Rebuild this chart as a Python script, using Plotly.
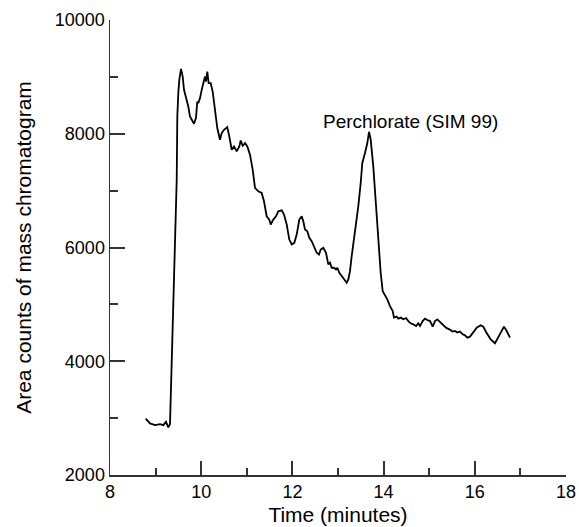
import plotly.graph_objects as go

time_min = [8.783, 8.877, 8.987, 9.096, 9.169, 9.228, 9.279, 9.316, 9.463, 9.476, 9.498, 9.520,
            9.557, 9.594, 9.623, 9.667, 9.717, 9.754, 9.792, 9.842, 9.886, 9.914, 9.936, 9.974,
            10.011, 10.046, 10.083, 10.105, 10.134, 10.164, 10.208, 10.252, 10.303, 10.353, 10.412,
            10.450, 10.500, 10.572, 10.616, 10.669, 10.719, 10.778, 10.836, 10.866, 10.910, 10.961,
            11.011, 11.070, 11.129, 11.180, 11.252, 11.327, 11.377, 11.436, 11.493, 11.524, 11.581,
            11.640, 11.691, 11.765, 11.816, 11.875, 11.932, 11.985, 12.042, 12.094, 12.151, 12.204,
            12.239, 12.276, 12.327, 12.371, 12.423, 12.474, 12.533, 12.583, 12.621, 12.678, 12.737,
            12.787, 12.825, 12.862, 12.912, 12.956, 12.985, 13.029, 13.081, 13.138, 13.191, 13.226,
            13.263, 13.300, 13.351, 13.395, 13.445, 13.498, 13.533, 13.592, 13.643, 13.680, 13.717,
            13.774, 13.833, 13.884, 13.936, 13.980, 14.031, 14.081, 14.140, 14.200, 14.228, 14.287,
            14.322, 14.375, 14.432, 14.491, 14.542, 14.594, 14.651, 14.711, 14.761, 14.798, 14.857,
            14.908, 14.958, 15.018, 15.077, 15.127, 15.178, 15.237, 15.296, 15.368, 15.441, 15.515,
            15.566, 15.616, 15.675, 15.735, 15.785, 15.836, 15.895, 15.967, 16.042, 16.129, 16.186,
            16.246, 16.296, 16.349, 16.443, 16.515, 16.590, 16.640, 16.699, 16.772]

area_counts = [2990, 2907, 2877, 2895, 2877, 2935, 2837, 2895, 7193, 8304, 8719, 8947,
               9140, 9005, 8772, 8654, 8479, 8304, 8246, 8175, 8281, 8567, 8539, 8626,
               8772, 8918, 9005, 8918, 9093, 8889, 8889, 8742, 8421, 8100, 7895,
               8012, 8070, 8118, 7953, 7719, 7777, 7689, 7777, 7882, 7789, 7837,
               7777, 7632, 7368, 7047, 6988, 6960, 6812, 6549, 6491, 6404, 6491,
               6549, 6637, 6654, 6579, 6404, 6140, 6053, 6082, 6228, 6491, 6549,
               6461, 6316, 6286, 6170, 6111, 6023, 5907, 5877, 5965, 5995, 5907,
               5702, 5732, 5644, 5644, 5614, 5644, 5556, 5496, 5439, 5381, 5439,
               5584, 5847, 6140, 6374, 6725, 7135, 7486, 7661, 7837, 8035, 7895,
               7426, 6725, 6023, 5556, 5233, 5158, 5088, 4970, 4882, 4767, 4784,
               4749, 4767, 4737, 4760, 4707, 4667, 4649, 4619, 4667, 4619, 4707,
               4749, 4725, 4707, 4609, 4707, 4737, 4689, 4632, 4591, 4561, 4521,
               4532, 4504, 4521, 4474, 4456, 4416, 4433, 4504, 4591, 4632, 4609,
               4514, 4444, 4386, 4316, 4416, 4514, 4609, 4532, 4416]

x_range = [8, 18]
y_range = [2000, 10000]
x_tick_step = 2
x_minor_step = 1
y_tick_step = 2000
y_minor_step = 1000

peak_label = "Perchlorate (SIM 99)"
peak_label_x = 14.58
peak_label_y = 8216

font_family = "Liberation Sans, Arial, sans-serif"
axis_color = "#333333"

fig = go.Figure()
fig.add_trace(go.Scatter(
    x=time_min, y=area_counts, mode="lines",
    line=dict(color="black", width=1.8),
    showlegend=False, hoverinfo="skip",
))

fig.add_annotation(
    x=peak_label_x, y=peak_label_y, text=peak_label, showarrow=False,
    font=dict(family=font_family, size=19, color="black"),
    xanchor="center", yanchor="middle",
)

tick_font = dict(family=font_family, size=18, color="black")
title_font = dict(family=font_family, size=21, color="black")

fig.update_layout(
    template="simple_white",
    width=579, height=527,
    margin=dict(l=110, r=13, t=20, b=52),
    plot_bgcolor="white", paper_bgcolor="white",
    font=dict(family=font_family, color="black"),
    xaxis=dict(
        range=x_range, tickmode="linear", tick0=x_range[0], dtick=x_tick_step,
        showline=True, linecolor=axis_color, linewidth=1.5,
        ticks="inside", ticklen=14, tickwidth=2, tickcolor=axis_color, tickformat="d",
        minor=dict(ticks="inside", ticklen=7, tickwidth=2, tickcolor=axis_color, dtick=x_minor_step),
        showgrid=False, zeroline=False, automargin=False, mirror=False, tickfont=tick_font,
        title=dict(text="Time (minutes)", font=title_font, standoff=6),
    ),
    yaxis=dict(
        range=y_range, tickmode="linear", tick0=y_range[0], dtick=y_tick_step,
        showline=True, linecolor=axis_color, linewidth=1.5,
        ticks="inside", ticklen=15, tickwidth=2, tickcolor=axis_color, tickformat="d",
        minor=dict(ticks="inside", ticklen=8, tickwidth=2, tickcolor=axis_color, dtick=y_minor_step),
        showgrid=False, zeroline=False, automargin=False, mirror=False, tickfont=tick_font,
        title=dict(text="Area counts of mass chromatogram", font=title_font, standoff=17),
    ),
)

fig.write_html(
    "out.html",
    config={"displayModeBar": False, "staticPlot": True},
    post_script="document.body.style.margin='0';document.body.style.overflow='hidden';",
)
